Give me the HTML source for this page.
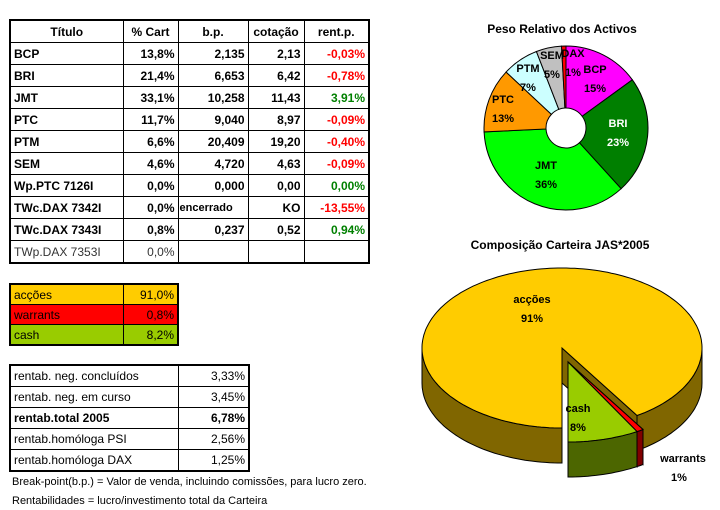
<!DOCTYPE html>
<html><head><meta charset="utf-8"><style>
body{margin:0;width:720px;height:510px;background:#fff;position:relative;overflow:hidden;font-family:"Liberation Sans",sans-serif;}
table{position:absolute;border-collapse:collapse;table-layout:fixed;border:2px solid #000;}
td{border:1px solid #000;padding:0 3px;white-space:nowrap;overflow:hidden;font-size:12px;}
#t1 td{height:21px;font-weight:bold;text-align:right;}
#t1 td:first-child{text-align:left;}
#t1 tr.h td{text-align:center;}
.r{color:#f00}.g{color:#008000}
#t2 td{height:19px;}
#t3 td{height:20px;}
.foot{position:absolute;left:12px;font-size:11px;}
</style></head><body>
<table id="t1" style="left:9px;top:19px;width:359px;">
<colgroup><col style="width:113px"><col style="width:55px"><col style="width:70px"><col style="width:56px"><col style="width:65px"></colgroup>
<tr class="h"><td>Título</td><td>% Cart</td><td>b.p.</td><td>cotação</td><td>rent.p.</td></tr>
<tr><td>BCP</td><td>13,8%</td><td>2,135</td><td>2,13</td><td class="r">-0,03%</td></tr>
<tr><td>BRI</td><td>21,4%</td><td>6,653</td><td>6,42</td><td class="r">-0,78%</td></tr>
<tr><td>JMT</td><td>33,1%</td><td>10,258</td><td>11,43</td><td class="g">3,91%</td></tr>
<tr><td>PTC</td><td>11,7%</td><td>9,040</td><td>8,97</td><td class="r">-0,09%</td></tr>
<tr><td>PTM</td><td>6,6%</td><td>20,409</td><td>19,20</td><td class="r">-0,40%</td></tr>
<tr><td>SEM</td><td>4,6%</td><td>4,720</td><td>4,63</td><td class="r">-0,09%</td></tr>
<tr><td>Wp.PTC 7126I</td><td>0,0%</td><td>0,000</td><td>0,00</td><td class="g">0,00%</td></tr>
<tr><td>TWc.DAX 7342I</td><td>0,0%</td><td style="text-align:left;font-size:11px;padding:0 1px">encerrado</td><td>KO</td><td class="r">-13,55%</td></tr>
<tr><td>TWc.DAX 7343I</td><td>0,8%</td><td>0,237</td><td>0,52</td><td class="g">0,94%</td></tr>
<tr><td style="font-weight:normal;color:#333">TWp.DAX 7353I</td><td style="font-weight:normal;color:#333">0,0%</td><td></td><td></td><td></td></tr>
</table>
<table id="t2" style="left:9px;top:283px;width:168px;">
<colgroup><col style="width:113px"><col style="width:55px"></colgroup>
<tr style="background:#ffcc00"><td>acções</td><td style="text-align:right">91,0%</td></tr>
<tr style="background:#ff0000"><td>warrants</td><td style="text-align:right">0,8%</td></tr>
<tr style="background:#99cc00"><td>cash</td><td style="text-align:right">8,2%</td></tr>
</table>
<table id="t3" style="left:9px;top:364px;width:239px;">
<colgroup><col style="width:168px"><col style="width:71px"></colgroup>
<tr><td>rentab. neg. concluídos</td><td style="text-align:right">3,33%</td></tr>
<tr><td>rentab. neg. em curso</td><td style="text-align:right">3,45%</td></tr>
<tr style="font-weight:bold"><td>rentab.total 2005</td><td style="text-align:right">6,78%</td></tr>
<tr><td>rentab.homóloga PSI</td><td style="text-align:right">2,56%</td></tr>
<tr><td>rentab.homóloga DAX</td><td style="text-align:right">1,25%</td></tr>
</table>
<div class="foot" style="top:476px">Break-point(b.p.) = Valor de venda, incluindo comissões, para lucro zero.</div>
<div class="foot" style="top:495px">Rentabilidades = lucro/investimento total da Carteira</div>

<svg id="svg" width="720" height="510" style="position:absolute;left:0;top:0">
<text x="562" y="33" text-anchor="middle" font-size="12" font-weight="bold" font-family="Liberation Sans,sans-serif">Peso Relativo dos Activos</text>
<g id="donut"></g>
<text x="560" y="249" text-anchor="middle" font-size="12" font-weight="bold" font-family="Liberation Sans,sans-serif">Composição Carteira JAS*2005</text>
<g id="pie"></g>
</svg>
<script>
const assetNames=["BCP","BRI","JMT","PTC","PTM","SEM","DAX"];
const assetWeights=[13.8,21.4,33.1,11.7,6.6,4.6,0.8];
const assetColors=["#ff00ff","#007f00","#00ff00","#ff9900","#ccffff","#c0c0c0","#ff0000"];
const compNames=["acções","warrants","cash"];
const compValues=[91.0,0.8,8.2];
const NS="http://www.w3.org/2000/svg";
function mk(tag,attrs,parent){const e=document.createElementNS(NS,tag);for(const k in attrs)e.setAttribute(k,attrs[k]);parent.appendChild(e);return e;}
// donut
(function(){
const g=document.getElementById('donut');const cx=566,cy=128,R=82,r=20;
const labelPos=[[595,73],[618,127],[546,169],[503,103],[528,72],[552,59],[573,57]];
const tot=assetWeights.reduce((a,b)=>a+b,0);let a=-Math.PI/2;
assetWeights.forEach((v,i)=>{
 const s=v/tot*2*Math.PI,a1=a+s,lg=s>Math.PI?1:0;
 const p=(ang,rad)=>(cx+rad*Math.cos(ang)).toFixed(2)+","+(cy+rad*Math.sin(ang)).toFixed(2);
 const d="M"+p(a,R)+" A"+R+","+R+" 0 "+lg+" 1 "+p(a1,R)+" L"+p(a1,r)+" A"+r+","+r+" 0 "+lg+" 0 "+p(a,r)+"Z";
 const el=mk('path',{d:d,fill:assetColors[i],stroke:'#000','stroke-width':1},g);
 
 
 a=a1;
});
assetWeights.forEach((v,i)=>{
 const [x,y]=labelPos[i];
 const col=i==1?'#fff':'#000';
 const t=mk('text',{x:x,y:y,'text-anchor':'middle','font-size':11,'font-weight':'bold',fill:col,'font-family':'Liberation Sans,sans-serif'},g);
 t.textContent=assetNames[i];
 
 
 const t2=mk('text',{x:x,y:y+19,'text-anchor':'middle','font-size':11,'font-weight':'bold',fill:col,'font-family':'Liberation Sans,sans-serif'},g);
 t2.textContent=Math.round(v/tot*100)+"%";
 
 
});
})();
// 3D pie
(function(){
const g=document.getElementById('pie');const cx=562,cy=348,rx=140,ry=80,dep=35;
const tops=["#ffcc00","#ff0000","#99cc00"],sides=["#806600","#800000","#4c6600"];
const tot=compValues.reduce((a,b)=>a+b,0);
const down=Math.PI/2;
const cashA=compValues[2]/tot*2*Math.PI,warA=compValues[1]/tot*2*Math.PI;
const ranges=[[down,down+2*Math.PI-cashA-warA],[down-cashA-warA,down-cashA],[down-cashA,down]];
const offs=[[0,0],[6,14],[6,14]];
const P=(a,ox,oy,dz)=>[cx+ox+rx*Math.cos(a),cy+oy+dz+ry*Math.sin(a)];
function arcPts(a0,a1,ox,oy,dz){const pts=[];const n=Math.max(2,Math.ceil(Math.abs(a1-a0)/0.03));for(let k=0;k<=n;k++){pts.push(P(a0+(a1-a0)*k/n,ox,oy,dz));}return pts;}
function poly(pts,fill,name){const el=mk('polygon',{points:pts.map(p=>p[0].toFixed(1)+","+p[1].toFixed(1)).join(" "),fill:fill,stroke:'#000','stroke-width':1},g);
 
 }
function sideArc(a0,a1,ox,oy,col,name){
 for(const base of [-2*Math.PI,0,2*Math.PI]){const s=Math.max(a0,base),e=Math.min(a1,base+Math.PI);
  if(e>s){const top=arcPts(s,e,ox,oy,0),bot=arcPts(e,s,ox,oy,dep);poly(top.concat(bot),col,name);}}
}
function face(a,ox,oy,col,name){const c=[cx+ox,cy+oy],p=P(a,ox,oy,0);poly([c,p,[p[0],p[1]+dep],[c[0],c[1]+dep]],col,name);}
[0,1,2].forEach(i=>{
 const [a0,a1]=ranges[i],[ox,oy]=offs[i],nm=compNames[i]=="acções"?"accoes":compNames[i];
 face(a0,ox,oy,sides[i],'pie-face-'+nm);face(a1,ox,oy,sides[i],'pie-face-'+nm);
 sideArc(a0,a1,ox,oy,sides[i],'pie-side-'+nm);
 const pts=[[cx+ox,cy+oy]].concat(arcPts(a0,a1,ox,oy,0));
 const el=mk('polygon',{points:pts.map(p=>p[0].toFixed(1)+","+p[1].toFixed(1)).join(" "),fill:tops[i],stroke:'#000','stroke-width':1},g);
 
 
});
const lab=[[532,303,0],[683,462,1],[578,412,2]];
lab.forEach(([x,y,i])=>{
 const t=mk('text',{x:x,y:y,'text-anchor':'middle','font-size':11,'font-weight':'bold','font-family':'Liberation Sans,sans-serif'},g);
 t.textContent=compNames[i];
 
 
 const t2=mk('text',{x:x-(i==1?4:0),y:y+19,'text-anchor':'middle','font-size':11,'font-weight':'bold','font-family':'Liberation Sans,sans-serif'},g);
 t2.textContent=Math.round(compValues[i]/tot*100)+"%";
 
 
});
})();
</script>
</body></html>
